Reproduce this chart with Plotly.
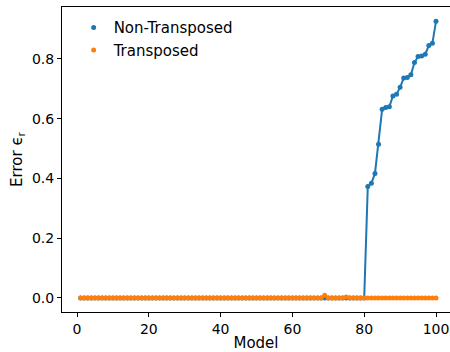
import plotly.graph_objects as go

models = list(range(1, 101))

non_transposed = [0.0] * 79 + [
    0.0,    # 80
    0.373, 0.384, 0.417, 0.515, 0.632, 0.638, 0.640, 0.676, 0.682, 0.705,
    0.736, 0.738, 0.747, 0.788, 0.808, 0.810, 0.816, 0.845, 0.853, 0.926,
]

transposed = [0.0] * 100
transposed[68] = 0.009   # model 69
transposed[74] = 0.003   # model 75

BLUE = "#1f77b4"
ORANGE = "#ff7f0e"

fig = go.Figure()
fig.add_trace(go.Scatter(x=models, y=non_transposed, mode="lines",
                         line=dict(color=BLUE, width=2), showlegend=False,
                         hoverinfo="skip"))
fig.add_trace(go.Scatter(x=models, y=non_transposed, mode="markers",
                         marker=dict(color=BLUE, size=5), name="Non-Transposed"))
fig.add_trace(go.Scatter(x=models, y=transposed, mode="markers",
                         marker=dict(color=ORANGE, size=5), name="Transposed"))

axis_common = dict(showgrid=False, zeroline=False, showline=True, linecolor="black",
                   linewidth=1, ticks="outside", ticklen=4, tickcolor="black",
                   tickfont=dict(size=14, color="black"), automargin=False)

fig.update_layout(
    width=450, height=352,
    margin=dict(l=62, r=0, t=7, b=40),
    paper_bgcolor="white", plot_bgcolor="white",
    font=dict(family="DejaVu Sans", size=14, color="black"),
    xaxis=dict(range=[-4.18, 103.9], tickvals=[0, 20, 40, 60, 80, 100], mirror=True,
               title=dict(text="Model", font=dict(size=15), standoff=8), **axis_common),
    yaxis=dict(range=[-0.0469, 0.974], tickvals=[0, 0.2, 0.4, 0.6, 0.8], tickformat=".1f",
               title=dict(text="Error ϵ<sub>r</sub>", font=dict(size=15), standoff=5),
               **axis_common),
    legend=dict(x=0.03, y=0.986, xanchor="left", yanchor="top", bgcolor="rgba(0,0,0,0)",
                font=dict(size=15), tracegroupgap=0, itemwidth=30),
    showlegend=True,
)

fig.write_html("out.html")
